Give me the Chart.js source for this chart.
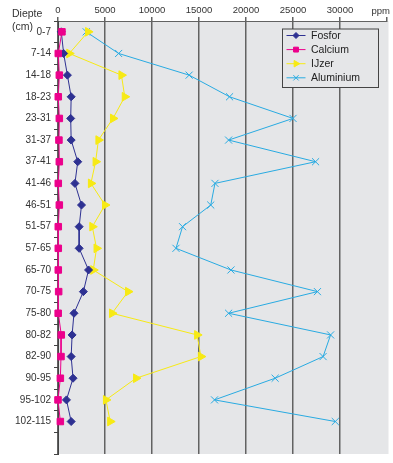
<!DOCTYPE html>
<html>
<head>
<meta charset="utf-8">
<script src="https://cdn.jsdelivr.net/npm/chart.js@4/dist/chart.umd.min.js"></script>
<style>
  html, body { margin: 0; padding: 0; background: #fff; }
  #wrap { width: 393px; height: 463px; }
</style>
</head>
<body>
<div id="wrap"><canvas id="c" width="393" height="463"></canvas></div>
<script>
// Soil profile: element concentrations (ppm) per depth layer
const depths = ['0-7', '7-14', '14-18', '18-23', '23-31', '31-37', '37-41', '41-46', '46-51', '51-57',
                '57-65', '65-70', '70-75', '75-80', '80-82', '82-90', '90-95', '95-102', '102-115'];
const fosfor    = [350, 600, 1000, 1400, 1350, 1400, 2100, 1800, 2500, 2250, 2250, 3250, 2700, 1700, 1500, 1400, 1600, 900, 1400];
const calcium   = [420, 30, 140, 30, 140, 100, 140, 30, 140, 30, 30, 30, 70, 20, 350, 320, 250, 0, 250];
const ijzer     = [3200, 1200, 6750, 7100, 5850, 4300, 4000, 3500, 5000, 3650, 4100, 3750, 7450, 5750, 14800, 15200, 8300, 5100, 5550];
const aluminium = [3000, 6450, 13950, 18250, 25000, 18150, 27400, 16700, 16250, 13250, 12550, 18400, 27600, 18150, 29000, 28200, 23100, 16650, 29500];
const xTicks = [0, 5000, 10000, 15000, 20000, 25000, 30000];
const xMax = 35000;

const FONT = '"Liberation Sans", Arial, Helvetica, sans-serif';
const PLOT_BG = '#e5e6e8';
const GRID = '#626262';
const TEXT = '#333';

// grey plot background
const plotBackground = {
  id: 'plotBackground',
  beforeDraw(chart) {
    const { ctx, chartArea: a } = chart;
    ctx.save();
    ctx.fillStyle = PLOT_BG;
    ctx.fillRect(a.left, a.top, a.right - a.left + 1.5, a.bottom - a.top);
    ctx.restore();
  }
};

// boxed legend with line + marker samples, and the axis captions
const boxLegend = {
  id: 'boxLegend',
  afterDraw(chart) {
    const { ctx, chartArea: a } = chart;
    const x0 = a.right - 104.5, y0 = a.top + 8, w = 96, h = 58.5;
    ctx.save();
    ctx.fillStyle = PLOT_BG;
    ctx.fillRect(x0, y0, w, h);
    ctx.strokeStyle = '#444';
    ctx.lineWidth = 1;
    ctx.strokeRect(x0, y0, w, h);
    chart.data.datasets.forEach((ds, row) => {
      const y = y0 + 6.5 + row * 14.1;
      ctx.strokeStyle = ds.borderColor;
      ctx.lineWidth = 1;
      ctx.beginPath();
      ctx.moveTo(x0 + 4, y);
      ctx.lineTo(x0 + 23, y);
      ctx.stroke();
      ctx.fillStyle = ds.pointBackgroundColor;
      ctx.strokeStyle = ds.pointBorderColor;
      Chart.helpers.drawPoint(ctx, {
        pointStyle: ds.pointStyle,
        radius: ds.pointRadius * 0.75,
        rotation: ds.pointRotation || 0,
        borderWidth: 1
      }, x0 + 13.5, y);
      ctx.fillStyle = '#222';
      ctx.font = '10.5px ' + FONT;
      ctx.textBaseline = 'middle';
      ctx.textAlign = 'left';
      ctx.fillText(ds.label, x0 + 28.5, y + 0.5);
    });

    ctx.fillStyle = TEXT;
    ctx.font = '10.5px ' + FONT;
    ctx.textAlign = 'left';
    ctx.textBaseline = 'middle';
    ctx.fillText('Diepte', 12, 14);
    ctx.fillText('(cm)', 12, 27.5);
    ctx.font = '9.5px ' + FONT;
    ctx.textAlign = 'right';
    ctx.textBaseline = 'bottom';
    ctx.fillText('ppm', 390, a.top - 5);
    ctx.restore();
  }
};

const lineBase = { borderWidth: 1, tension: 0, fill: false, clip: false, pointBorderWidth: 1, pointHoverRadius: 5 };

new Chart(document.getElementById('c'), {
  type: 'line',
  data: {
    labels: depths.concat(['']),
    datasets: [
      Object.assign({}, lineBase, {
        label: 'Fosfor', data: fosfor, order: 2,
        borderColor: '#2e3192', pointBackgroundColor: '#2e3192', pointBorderColor: '#2e3192',
        pointStyle: 'rectRot', pointRadius: 4
      }),
      Object.assign({}, lineBase, {
        label: 'Calcium', data: calcium, order: 1,
        borderColor: '#ec008c', pointBackgroundColor: '#ec008c', pointBorderColor: '#ec008c',
        pointStyle: 'rect', pointRadius: 4.6
      }),
      Object.assign({}, lineBase, {
        label: 'IJzer', data: ijzer, order: 3,
        borderColor: '#f7ea14', pointBackgroundColor: '#f7ea14', pointBorderColor: '#f7ea14',
        pointStyle: 'triangle', pointRotation: 90, pointRadius: 5
      }),
      Object.assign({}, lineBase, {
        label: 'Aluminium', data: aluminium, order: 4,
        borderColor: '#29abe2', pointBackgroundColor: '#29abe2', pointBorderColor: '#29abe2',
        pointStyle: 'crossRot', pointRadius: 5
      })
    ]
  },
  options: {
    indexAxis: 'y',
    responsive: false,
    devicePixelRatio: 1,
    animation: false,
    layout: { padding: { left: 0, right: 5, top: 0, bottom: 0 } },
    plugins: { legend: { display: false }, tooltip: { enabled: false } },
    scales: {
      x: {
        type: 'linear',
        position: 'top',
        min: 0,
        max: xMax,
        afterBuildTicks(scale) {
          scale.ticks = xTicks.concat([xMax]).map(v => ({ value: v }));
        },
        afterFit(scale) { scale.height = 21; scale.paddingLeft = 0; scale.paddingRight = 0; },
        ticks: {
          font: { family: FONT, size: 9.5 },
          color: TEXT,
          padding: 1,
          maxRotation: 0,
          autoSkip: false,
          callback: v => (xTicks.includes(v) ? String(v) : '')
        },
        grid: {
          color: c => (c.tick && c.tick.value === xMax ? 'rgba(0,0,0,0)' : GRID),
          tickColor: GRID,
          tickLength: 4,
          lineWidth: 1.5
        },
        border: { display: true, color: GRID, width: 1 }
      },
      y: {
        type: 'category',
        offset: true,
        afterFit(scale) { scale.width = 58; },
        ticks: {
          font: { family: FONT, size: 10 },
          color: TEXT,
          padding: 3,
          autoSkip: false
        },
        grid: {
          offset: true,
          drawOnChartArea: false,
          tickLength: 4,
          tickColor: c => (c.index >= depths.length + 1 ? 'rgba(0,0,0,0)' : '#444')
        },
        border: { display: true, color: '#444', width: 1 }
      }
    }
  },
  plugins: [plotBackground, boxLegend]
});
</script>
</body>
</html>
